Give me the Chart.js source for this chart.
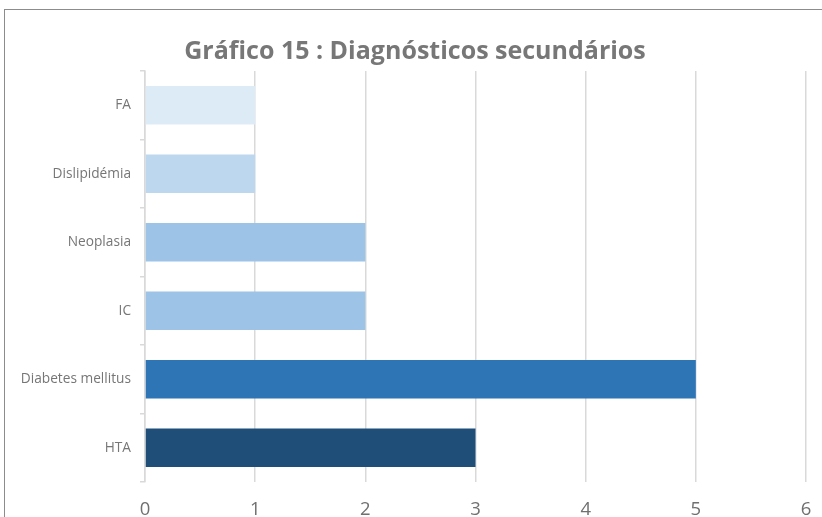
<!DOCTYPE html>
<html>
<head>
<meta charset="utf-8">
<script src="https://cdn.jsdelivr.net/npm/chart.js@4"></script>
<style>
  html,body{margin:0;padding:0;background:#fff;overflow:hidden;}
  #wrap{position:absolute;left:0;top:0;width:822px;height:517px;}
  #frame{position:absolute;left:4px;top:9px;width:830px;height:520px;border-left:1.5px solid #8c8c8c;border-top:1.5px solid #8c8c8c;pointer-events:none;}
</style>
</head>
<body>
<div id="wrap"><canvas id="c" width="822" height="517"></canvas><div id="frame"></div></div>
<script>
const titleText = 'Gráfico 15 : Diagnósticos secundários';
const categories = ['FA', 'Dislipidémia', 'Neoplasia', 'IC', 'Diabetes mellitus', 'HTA'];
const values = [1, 1, 2, 2, 5, 3];
const barColors = ['#DDEBF7', '#BDD7EE', '#9DC3E6', '#9DC3E6', '#2E75B6', '#1F4E79'];
const xTicks = [0, 1, 2, 3, 4, 5, 6];

const FONT = "'Open Sans', 'Liberation Sans', sans-serif";

new Chart(document.getElementById('c'), {
  type: 'bar',
  data: {
    labels: categories,
    datasets: [{
      data: values,
      backgroundColor: barColors,
      borderWidth: 0,
      categoryPercentage: 1,
      barPercentage: 0.56
    }]
  },
  options: {
    indexAxis: 'y',
    responsive: false,
    animation: false,
    layout: { padding: { left: 8, right: 0, top: 0, bottom: 0 } },
    plugins: {
      legend: { display: false },
      tooltip: { enabled: false },
      title: {
        display: true,
        text: titleText,
        color: '#777777',
        font: { family: FONT, size: 25, weight: 'bold', lineHeight: 1.2 },
        padding: { top: 37, bottom: 4 }
      }
    },
    scales: {
      x: {
        min: 0, max: 6,
        afterBuildTicks: (s) => { s.ticks = xTicks.map(v => ({ value: v })); },
        afterFit: (s) => { s.height = 35; s.paddingLeft = 0; s.paddingRight = 16; },
        grid: { color: '#d9d9d9', lineWidth: 1.5, drawTicks: false },
        border: { display: false },
        ticks: { color: '#707070', font: { family: FONT, size: 18.5 }, padding: 17, maxRotation: 0 }
      },
      y: {
        afterFit: (s) => { s.width = 137; },
        grid: { display: true, drawOnChartArea: false, color: '#d9d9d9', lineWidth: 1.5, tickLength: 5, offset: true },
        border: { display: true, color: '#d9d9d9', width: 1.5 },
        ticks: { color: '#767676', font: { family: FONT, size: 13.7 }, padding: 9 }
      }
    }
  }
});
</script>
</body>
</html>
